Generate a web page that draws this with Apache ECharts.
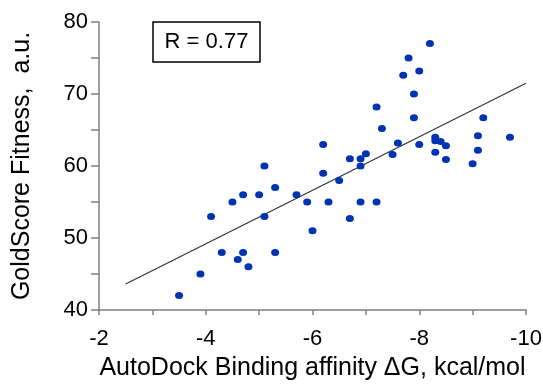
<!DOCTYPE html>
<html>
<head>
<meta charset="utf-8">
<script src="https://cdn.jsdelivr.net/npm/echarts@6/dist/echarts.min.js"></script>
<style>
  html, body { margin: 0; padding: 0; background: #fff; }
  #chart { width: 543px; height: 384px; }
</style>
</head>
<body>
<div id="chart"></div>
<script>
// AutoDock binding affinity (kcal/mol) vs GoldScore fitness
const affinity = [
  -3.5, -3.9, -4.1, -4.3, -4.5, -4.6, -4.7, -4.7, -4.8, -5.0,
  -5.1, -5.1, -5.3, -5.3, -5.7, -5.9, -6.0, -6.2, -6.2, -6.3,
  -6.5, -6.7, -6.7, -6.9, -6.9, -6.9, -7.0, -7.2, -7.2, -7.3,
  -7.5, -7.6, -7.7, -7.8, -7.9, -7.9, -8.0, -8.0, -8.2, -8.3,
  -8.3, -8.3, -8.4, -8.5, -8.5, -9.0, -9.1, -9.1, -9.2, -9.7
];
const fitness = [
  42, 45, 53, 48, 55, 47, 48, 56, 46, 56,
  53, 60, 48, 57, 56, 55, 51, 59, 63, 55,
  58, 52.7, 61, 55, 60, 61, 61.7, 55, 68.2, 65.2,
  61.6, 63.2, 72.6, 75, 70, 66.7, 73.2, 63, 77, 64,
  63.5, 61.9, 63.4, 62.8, 60.9, 60.3, 64.2, 62.2, 66.7, 64
];
// trend line end points
const fitX = [-2.5, -10];
const fitY = [43.6, 71.5];
const rLabel = 'R = 0.77';

const font = '"Liberation Sans", Arial, sans-serif';
const axisGray = '#808080';

const chart = echarts.init(document.getElementById('chart'));

chart.setOption({
  animation: false,
  grid: { left: 99, right: 17, top: 22, bottom: 74, containLabel: false, outerBoundsMode: 'none' },
  xAxis: {
    type: 'value',
    min: -10,
    max: -2,
    interval: 2,
    inverse: true,
    name: 'AutoDock Binding affinity \u0394G, kcal/mol',
    nameLocation: 'middle',
    nameGap: 46,
    nameTextStyle: { fontFamily: font, fontSize: 25, color: '#000' },
    axisLine: { lineStyle: { color: axisGray, width: 1.5 } },
    axisTick: { inside: false, length: 5, lineStyle: { color: axisGray, width: 1.5 } },
    minorTick: { show: true, splitNumber: 2, length: 5, lineStyle: { color: axisGray, width: 1.5 } },
    splitLine: { show: false },
    axisLabel: { fontFamily: font, fontSize: 22, color: '#000', margin: 18 }
  },
  yAxis: {
    type: 'value',
    min: 40,
    max: 80,
    interval: 10,
    name: 'GoldScore Fitness,  a.u.',
    nameLocation: 'middle',
    nameRotate: 90,
    nameGap: 64,
    nameTextStyle: { fontFamily: font, fontSize: 25, color: '#000' },
    axisLine: { show: true, lineStyle: { color: axisGray, width: 1.5 } },
    axisTick: { show: true, length: 8, lineStyle: { color: axisGray, width: 1.5 } },
    minorTick: { show: true, splitNumber: 2, length: 8, lineStyle: { color: axisGray, width: 1.5 } },
    splitLine: { show: false },
    axisLabel: { fontFamily: font, fontSize: 22, color: '#000', margin: 11 }
  },
  series: [
    {
      type: 'line',
      data: fitX.map((x, i) => [x, fitY[i]]),
      showSymbol: false,
      lineStyle: { color: '#333', width: 1.2 },
      z: 1
    },
    {
      type: 'scatter',
      data: affinity.map((x, i) => [x, fitness[i]]),
      symbol: 'circle',
      symbolSize: [8, 7],
      itemStyle: { color: '#0033b4', opacity: 1 },
      z: 2
    }
  ],
  graphic: [
    {
      type: 'rect',
      shape: { x: 153, y: 22, width: 107, height: 40 },
      style: { fill: '#fff', stroke: '#000', lineWidth: 1.5 }
    },
    {
      type: 'text',
      x: 206.5,
      y: 42,
      style: {
        text: rLabel,
        font: '22px ' + font,
        fill: '#000',
        align: 'center',
        verticalAlign: 'middle'
      }
    }
  ]
});
</script>
</body>
</html>
